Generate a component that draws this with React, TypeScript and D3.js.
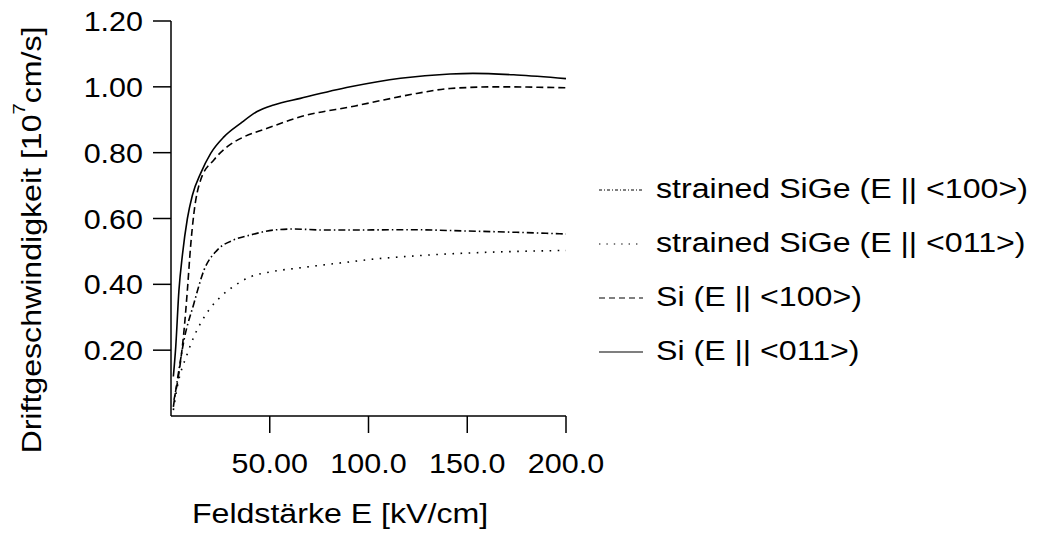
import React from "react";
import * as d3 from "d3";

// Drift velocity vs. field strength
const siO11E = [1.2, 2.4, 4, 5.8, 8.3, 10.8, 15, 20.1, 26.8, 35.2, 43.6, 52, 65.5, 90.8, 116.2, 141.3, 152.9, 175, 200];
const siO11V = [0.12, 0.21, 0.38, 0.49, 0.6, 0.67, 0.737, 0.798, 0.848, 0.889, 0.925, 0.945, 0.965, 1.0, 1.026, 1.039, 1.041, 1.036, 1.025];

const si100E = [1.5, 4, 6.6, 8.3, 9.9, 11.6, 15, 21.7, 28.5, 36.9, 48.7, 65.5, 93.3, 107.6, 124.4, 141.3, 166.5, 200];
const si100V = [0.049, 0.13, 0.26, 0.383, 0.514, 0.616, 0.717, 0.778, 0.818, 0.848, 0.874, 0.909, 0.942, 0.96, 0.98, 0.995, 1.0, 0.997];

const sige100E = [1.2, 3.2, 6.6, 11.6, 16.7, 23.4, 31.8, 40.3, 52, 62.1, 77.3, 90.8, 120, 150, 175, 200];
const sige100V = [0.028, 0.109, 0.231, 0.342, 0.443, 0.504, 0.535, 0.55, 0.565, 0.568, 0.565, 0.565, 0.566, 0.562, 0.558, 0.553];

const sige011E = [1.2, 3.2, 8.3, 11.6, 15, 19.2, 25.1, 32.7, 40.3, 50.4, 63.8, 77.3, 87.4, 100, 125, 150, 175, 200];
const sige011V = [0.018, 0.089, 0.19, 0.241, 0.282, 0.322, 0.362, 0.398, 0.423, 0.438, 0.449, 0.459, 0.466, 0.475, 0.487, 0.495, 0.5, 0.503];

const xTicks = [50, 100, 150, 200];
const xTickLabels = ["50.00", "100.0", "150.0", "200.0"];
const yTicks = [0.2, 0.4, 0.6, 0.8, 1.0, 1.2];
const yTickLabels = ["0.20", "0.40", "0.60", "0.80", "1.00", "1.20"];

const legendLabels = [
  "strained SiGe (E || <100>)",
  "strained SiGe (E || <011>)",
  "Si (E || <100>)",
  "Si (E || <011>)",
];

const FONT = "'Liberation Sans', Arial, Helvetica, sans-serif";

const App: React.FC = () => {
  const width = 1037;
  const height = 539;

  const x = d3.scaleLinear().domain([0, 200]).range([171, 566]);
  const y = d3.scaleLinear().domain([0, 1.2]).range([416, 21]);

  const line = d3
    .line<[number, number]>()
    .x((d) => x(d[0]))
    .y((d) => y(d[1]))
    .curve(d3.curveMonotoneX);

  const series = [
    { e: sige100E, v: sige100V, dash: "7,3,1.5,3" },
    { e: sige011E, v: sige011V, dash: "1.6,6.5" },
    { e: si100E, v: si100V, dash: "7,4" },
    { e: siO11E, v: siO11V, dash: "none" },
  ];
  const legendDash = ["3,2,1,2", "1.4,6", "6,4", "none"];
  const legendY = [190, 244, 298, 352];

  // the reference type is set wider than Arial, so stretch it horizontally
  const sx = 1.19;
  const tx = 1.13;

  return (
    <svg
      width={width}
      height={height}
      style={{ position: "absolute", left: 0, top: 0, background: "#fff" }}
      fontFamily={FONT}
      fontSize={27}
    >
      {/* axes */}
      <line x1={x(0)} x2={x(0)} y1={y(1.2)} y2={y(0)} stroke="#000" strokeWidth={1.5} />
      <line x1={x(0)} x2={x(200)} y1={y(0)} y2={y(0)} stroke="#000" strokeWidth={1.5} />
      {yTicks.map((t, i) => (
        <g key={"y" + t}>
          <line x1={x(0) - 18} x2={x(0)} y1={y(t)} y2={y(t)} stroke="#000" strokeWidth={1.5} />
          <text
            transform={`translate(143, ${y(t) + 10}) scale(${tx},1)`}
            textAnchor="end"
          >
            {yTickLabels[i]}
          </text>
        </g>
      ))}
      {xTicks.map((t, i) => (
        <g key={"x" + t}>
          <line x1={x(t)} x2={x(t)} y1={y(0)} y2={y(0) + 17} stroke="#000" strokeWidth={1.5} />
          <text
            transform={`translate(${x(t)}, 473) scale(${tx},1)`}
            textAnchor="middle"
          >
            {xTickLabels[i]}
          </text>
        </g>
      ))}

      {/* axis titles */}
      <text transform={`translate(340, 523) scale(${sx},1)`} textAnchor="middle">
        Feldstärke E [kV/cm]
      </text>
      <text
        transform={`translate(41, 240) rotate(-90) scale(${sx},1)`}
        textAnchor="middle"
      >
        Driftgeschwindigkeit [10
        <tspan dy={-16} fontSize={17}>7</tspan>
        <tspan dy={16}>cm/s]</tspan>
      </text>

      {/* curves */}
      {series.map((s, i) => (
        <path
          key={"s" + i}
          d={line(s.e.map((e, j) => [e, s.v[j]] as [number, number])) || ""}
          fill="none"
          stroke="#000"
          strokeWidth={1.6}
          strokeDasharray={s.dash}
        />
      ))}

      {/* legend */}
      {legendLabels.map((label, i) => (
        <g key={label}>
          <line
            x1={599}
            x2={643}
            y1={legendY[i]}
            y2={legendY[i]}
            stroke="#000"
            strokeWidth={1.2}
            strokeDasharray={legendDash[i]}
          />
          <text transform={`translate(656, ${legendY[i] + 8}) scale(${sx},1)`}>
            {label}
          </text>
        </g>
      ))}
    </svg>
  );
};

export default App;
